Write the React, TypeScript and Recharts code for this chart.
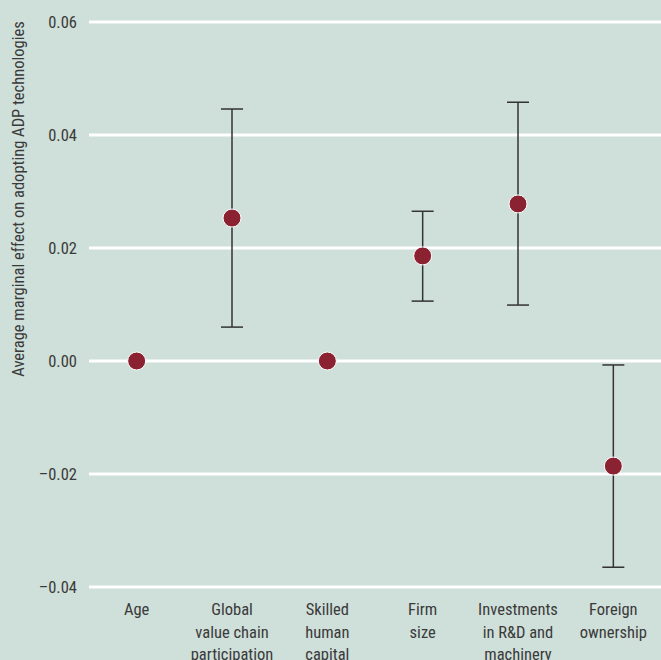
import React from 'react'
import {
    ComposedChart,
    Line,
    ErrorBar,
    XAxis,
    YAxis,
    CartesianGrid
} from "recharts";

// categories split into the lines shown under the axis
const categories: string[][] = [
    ["Age"],
    ["Global", "value chain", "participation"],
    ["Skilled", "human", "capital"],
    ["Firm", "size"],
    ["Investments", "in R&D and", "machinery"],
    ["Foreign", "ownership"]
];

const estimates: number[] = [0, 0.0253, 0, 0.0186, 0.0278, -0.0186];
const ciLow: (number | null)[] = [null, 0.0060, null, 0.0106, 0.0099, -0.0365];
const ciHigh: (number | null)[] = [null, 0.0446, null, 0.0265, 0.0458, -0.0007];

const yTicks: number[] = [-0.04, -0.02, 0, 0.02, 0.04, 0.06];

const FONT = '"Liberation Sans Narrow", "Roboto Condensed", "Liberation Sans", sans-serif';
const BG = '#cfdfd9';
const DOT = '#8b2232';
const TXT = '#3a3a3a';

const data = categories.map((lines, i) => ({
    name: lines.join(' '),
    value: estimates[i],
    err: ciLow[i] === null || ciHigh[i] === null
        ? null
        : [estimates[i] - (ciLow[i] as number), (ciHigh[i] as number) - estimates[i]]
}));

const formatY = (v: number) => (v < 0 ? '\u2013' + Math.abs(v).toFixed(2) : v.toFixed(2));

const CategoryTick = (props: any) => {
    const { x, y, index } = props;
    const lines = categories[index] || [];
    return (
        <text x={x} y={y} textAnchor="middle" fontFamily={FONT} fontSize={16.5} fill={TXT}>
            {lines.map((l, i) => (
                <tspan key={i} x={x} dy={i === 0 ? 20 : 22.5}>{l}</tspan>
            ))}
        </text>
    );
};

const YLabel = () => (
    <text
        x={0}
        y={0}
        transform="translate(24,199) rotate(-90)"
        textAnchor="middle"
        fontFamily={FONT}
        fontSize={16.5}
        fill={TXT}
    >
        Average marginal effect on adopting ADP technologies
    </text>
);

const App = () => {
    return (
        <div style={{ position: 'absolute', left: 0, top: 0, width: 661, height: 660, background: BG }}>
            <ComposedChart
                width={661}
                height={660}
                data={data}
                margin={{ top: 22, right: 0, left: 0, bottom: 0 }}
            >
                <CartesianGrid vertical={false} stroke="#ffffff" strokeWidth={3} />
                <XAxis
                    dataKey="name"
                    scale="band"
                    axisLine={false}
                    tickLine={false}
                    height={73}
                    interval={0}
                    tick={<CategoryTick />}
                />
                <YAxis
                    domain={[-0.04, 0.06]}
                    ticks={yTicks}
                    width={89}
                    axisLine={false}
                    tickLine={false}
                    tickSize={0}
                    tickMargin={12}
                    tickFormatter={formatY}
                    tick={{ fontFamily: FONT, fontSize: 16.5, fill: TXT }}
                    label={<YLabel />}
                />
                <Line
                    dataKey="value"
                    stroke="none"
                    isAnimationActive={false}
                    dot={{ r: 9, fill: DOT, stroke: '#ffffff', strokeWidth: 1, fillOpacity: 1 }}
                    activeDot={false}
                >
                    <ErrorBar dataKey="err" width={11} stroke="#333" strokeWidth={1.5} direction="y" />
                </Line>
            </ComposedChart>
        </div>
    )
}

export default App;
